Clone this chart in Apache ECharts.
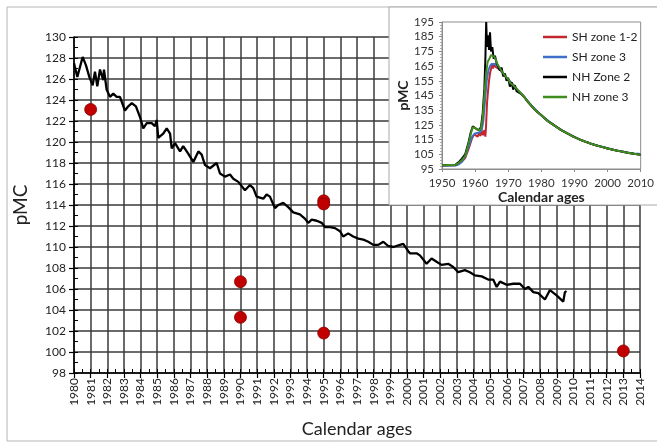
<!DOCTYPE html>
<html><head><meta charset="utf-8">
<script src="https://cdn.jsdelivr.net/npm/echarts@6/dist/echarts.min.js"></script>
<style>html,body{margin:0;padding:0;background:#fff}#c{width:657px;height:443px}</style>
</head><body><div id="c"></div>
<script>
// ---- Main chart data ----
const mainYears = [1980.00,1980.20,1980.52,1980.72,1980.92,
1981.12,1981.26,1981.40,1981.56,1981.76,1981.80,1981.96,
1982.16,1982.36,1982.56,1982.76,
1983.06,1983.26,1983.47,1983.72,1983.96,
1984.16,1984.37,1984.67,1984.86,1984.97,
1985.06,1985.36,1985.57,1985.77,1985.87,
1986.07,1986.37,1986.56,1986.86,
1987.17,1987.47,1987.67,1987.87,
1988.17,1988.57,1988.77,
1989.07,1989.37,1989.57,1989.87,
1990.27,1990.57,1990.77,1990.97,
1991.37,1991.57,1991.77,
1992.07,1992.27,1992.57,1992.87,
1993.17,1993.57,1993.87,
1994.07,1994.28,1994.58,1994.88,
1995.08,1995.38,1995.68,1995.98,
1996.17,1996.47,1996.77,
1997.08,1997.38,1997.68,1997.98,
1998.28,1998.58,1998.86,
1999.18,1999.58,1999.78,
2000.08,2000.18,2000.58,2000.78,
2001.18,2001.48,2001.78,
2002.08,2002.48,2002.78,
2003.08,2003.48,2003.78,
2004.08,2004.49,2004.88,
2005.18,2005.39,2005.59,2005.99,
2006.38,2006.79,
2007.09,2007.29,2007.59,2007.89,
2008.29,2008.59,2008.99,
2009.39,2009.49,2009.59];
const mainPMC = [127.5,126.2,128.1,127.3,126.2,
125.4,126.7,125.3,126.9,125.9,126.9,125.0,
124.3,124.6,124.3,124.3,
123.0,123.4,123.7,123.4,122.4,
121.3,121.8,121.8,121.5,122.1,
120.4,120.8,121.3,120.8,119.4,
119.9,119.1,119.6,118.9,
118.1,119.1,118.8,117.8,
117.5,118.0,117.0,
116.7,116.9,116.5,116.2,
115.4,115.9,115.6,114.8,
114.6,115.0,114.8,
113.7,114.0,114.2,113.8,
113.3,113.1,112.7,
112.3,112.6,112.5,112.3,
111.9,111.9,111.8,111.5,
111.0,111.3,111.0,
110.8,110.7,110.5,110.2,
110.2,110.5,110.1,
110.0,110.2,110.3,
109.6,109.4,109.4,109.2,
108.4,108.9,108.6,
108.3,108.4,108.1,
107.6,107.8,107.6,
107.3,107.2,106.9,
106.9,106.2,106.7,106.4,
106.5,106.5,
106.0,106.2,105.7,105.6,
105.0,105.9,105.4,
104.8,105.7,105.8];

const sampleYears = [1981, 1990, 1990, 1995, 1995, 1995, 2013];
const samplePMC   = [123.1, 106.7, 103.3, 114.4, 114.1, 101.8, 100.1];

// ---- Inset data ----
const insetNames = ['SH zone 1-2', 'SH zone 3', 'NH Zone 2', 'NH zone 3'];
const mergedTail = [[1975,143.5],[1976,140.5],[1977,138],[1978,135.5],[1979,133.5],[1980,131.5],[1981,129.5],[1982,127.5],[1983,126],[1984,124.5],[1985,123],[1986,121.5],[1987,120.2],[1988,119],[1989,117.8],[1990,116.7],[1991,115.7],[1992,114.7],[1993,113.8],[1994,113],[1995,112.2],[1996,111.5],[1997,110.8],[1998,110.2],[1999,109.6],[2000,109],[2001,108.4],[2002,107.9],[2003,107.4],[2004,107],[2005,106.5],[2006,106.1],[2007,105.7],[2008,105.3],[2009,105],[2010,104.6]];
const shZone12Early = [[1950,97.4],[1954,97.5],[1955,98.5],[1956,100],[1957,102.5],[1958,108.5],[1959,115.5],[1959.7,118.5],[1960.3,119.5],[1960.8,117],[1961.2,120],[1961.6,117.5],[1962,121],[1962.4,118],[1962.8,121.5],[1963.1,117],[1963.3,124],[1963.6,140],[1963.9,148],[1964.2,155],[1964.5,160],[1964.8,163],[1965.1,166.5],[1965.4,163.5],[1965.8,166],[1966.2,164.5],[1966.8,165],[1967.5,162.5],[1968.3,160.5],[1969,158.3],[1970,155.7],[1971,153.5],[1972,151],[1973,148.3],[1974,145.8]];
const shZone3Early = [[1950,97.3],[1954,97.4],[1955,98],[1956,100],[1957,103.5],[1958,110],[1959,116.5],[1959.8,119],[1960.5,119.5],[1961.3,119.8],[1962,121.5],[1962.5,128],[1963,142],[1963.5,155],[1964,162],[1964.5,165],[1965,166.5],[1965.5,167],[1966,166.5],[1967,164],[1968,161.3],[1969,158.5],[1970,156],[1971,153.3],[1972,151],[1973,148.5],[1974,146]];
const shZone3Late = [[1975,143.6],[1977,138.2],[1979,133.6],[1981,129.6],[1982,128],[1982.2,129.2],[1982.4,127.4],[1984,124.6],[1986,121.6],[1988,119.1],[1990,116.8],[1991.8,115],[1992,115.6],[1992.2,114.6],[1994,113.1],[1996,111.6],[1998,110.3],[2000,109.1],[2002,108],[2004,107.1],[2006,106.2],[2008,105.4],[2009.5,105.3],[2010,104.9]];
const nhZone2Early = [[1950,97.6],[1954,97.8],[1955,99.5],[1956,102],[1957,105],[1958,113],[1958.7,120],[1959.3,124],[1959.8,124],[1960.5,122],[1961.3,121.5],[1961.8,124],[1962.3,133],[1962.8,150],[1963.1,170],[1963.35,195],[1963.6,178],[1963.9,186],[1964.2,176],[1964.5,188],[1964.8,175],[1965.2,178],[1965.6,170],[1966,172],[1966.5,167],[1967,168],[1967.5,162],[1968,164],[1968.5,158],[1969,160],[1969.5,155],[1970,157],[1970.5,151],[1971,154],[1971.5,149],[1972,152],[1972.5,148],[1973,149],[1974,146]];
const nhZone3Early = [[1950,97.6],[1952,97.7],[1954,97.8],[1955,99],[1956,101],[1957,104],[1958,112],[1958.7,119],[1959.3,123.5],[1959.8,123.8],[1960.5,122.3],[1961.3,121],[1961.8,123],[1962.3,130],[1962.8,145],[1963.3,160],[1963.8,168],[1964.3,170],[1964.8,172.5],[1965.3,173],[1965.8,171.5],[1966.3,169],[1966.8,166],[1967.5,163.5],[1968.2,161],[1969,158.5],[1970,156],[1970.6,153.5],[1971,154.5],[1971.5,152],[1972,151.5],[1973,148.5],[1974,146]];
const insetColors = ['#C0282D', '#3D6FCB', '#000000', '#3F8C1F'];

const FONT = 'Lato, "Open Sans", "Liberation Sans", sans-serif';
const chart = echarts.init(document.getElementById('c'), null, {renderer: 'canvas'});

const mainLine = mainYears.map((y, i) => [y, mainPMC[i]]);
const samples = sampleYears.map((y, i) => [y, samplePMC[i]]);
const insetData = [
  shZone12Early.concat(mergedTail),
  shZone3Early.concat(shZone3Late),
  nhZone2Early.concat(mergedTail),
  nhZone3Early.concat(mergedTail)
];

const option = {
  animation: false,
  textStyle: {fontFamily: FONT},
  graphic: [
    {type: 'rect', silent: true, z: 0, shape: {x: 7, y: 7, width: 660, height: 434},
     style: {fill: 'none', stroke: '#b5b5b5', lineWidth: 1}},
    {type: 'rect', silent: true, z: 5, shape: {x: 389, y: 7, width: 280, height: 198},
     style: {fill: '#ffffff', stroke: '#a8a8a8', lineWidth: 1}}
  ],
  grid: [
    {left: 74, top: 37, right: 17, bottom: 70},
    {left: 442, top: 22, right: 14, bottom: 274, show: true, borderColor: '#8c8c8c', borderWidth: 1, backgroundColor: 'transparent', z: 10}
  ],
  legend: {
    left: 543, top: 31, orient: 'vertical', padding: 0, itemGap: 8,
    itemWidth: 24, itemHeight: 2.5, icon: 'rect', z: 12,
    data: insetNames,
    textStyle: {fontSize: 12, color: '#222', fontFamily: FONT}
  },
  xAxis: [
    {gridIndex: 0, type: 'value', min: 1980, max: 2014, interval: 1,
     axisLine: {lineStyle: {color: '#000', width: 1.5}},
     axisTick: {length: 5, lineStyle: {color: '#000', width: 1.2}},
     axisLabel: {rotate: 90, fontSize: 12, color: '#222', margin: 5, formatter: v => String(v)},
     splitLine: {show: true, lineStyle: {color: '#3a3a3a', width: 1.5}},
     name: 'Calendar ages', nameLocation: 'middle', nameGap: 47,
     nameTextStyle: {fontSize: 18, color: '#222'}},
    {gridIndex: 0, type: 'value', min: 1980, max: 2014, interval: 0.5, position: 'bottom',
     axisLine: {show: false}, axisTick: {inside: true, length: 4, lineStyle: {color: '#000', width: 1}},
     axisLabel: {show: false}, splitLine: {show: false}},
    {gridIndex: 1, type: 'value', min: 1950, max: 2010, interval: 10, z: 10,
     axisLine: {lineStyle: {color: '#8c8c8c'}},
     axisTick: {length: 3, lineStyle: {color: '#8c8c8c'}},
     axisLabel: {fontSize: 11.5, color: '#333', margin: 8, formatter: v => String(v)},
     splitLine: {show: false},
     name: 'Calendar ages', nameLocation: 'middle', nameGap: 21,
     nameTextStyle: {fontSize: 14, fontWeight: 'bold', color: '#222'}}
  ],
  yAxis: [
    {gridIndex: 0, type: 'value', min: 98, max: 130, interval: 2,
     axisLine: {show: true, lineStyle: {color: '#000', width: 1.5}},
     axisTick: {show: true, length: 5, lineStyle: {color: '#000', width: 1.2}},
     axisLabel: {fontSize: 12, color: '#222', margin: 8},
     splitLine: {show: true, lineStyle: {color: '#3a3a3a', width: 1.5}},
     name: 'pMC', nameLocation: 'middle', nameGap: 44,
     nameTextStyle: {fontSize: 19, color: '#222'}},
    {gridIndex: 0, type: 'value', min: 98, max: 130, interval: 1, position: 'left',
     axisLine: {show: false}, axisTick: {show: true, inside: true, length: 4, lineStyle: {color: '#000', width: 1}},
     axisLabel: {show: false}, splitLine: {show: false}},
    {gridIndex: 1, type: 'value', min: 95, max: 195, interval: 10, z: 10,
     axisLine: {show: true, lineStyle: {color: '#8c8c8c'}},
     axisTick: {show: true, length: 3, lineStyle: {color: '#8c8c8c'}},
     minorTick: {show: true, splitNumber: 5, length: 2, lineStyle: {color: '#aaa'}},
     axisLabel: {fontSize: 11.5, color: '#333', margin: 8},
     splitLine: {show: false},
     name: 'pMC', nameLocation: 'middle', nameGap: 30,
     nameTextStyle: {fontSize: 14, fontWeight: 'bold', color: '#222'}}
  ],
  series: [
    {type: 'line', name: 'main', xAxisIndex: 0, yAxisIndex: 0, data: mainLine,
     showSymbol: false, lineStyle: {color: '#000', width: 2.3}, z: 3},
    {type: 'scatter', name: 'samples', xAxisIndex: 0, yAxisIndex: 0, data: samples,
     symbolSize: 12, itemStyle: {color: '#C00000', opacity: 1, borderColor: '#8a0000', borderWidth: 0.8}, z: 4}
  ].concat(insetNames.map((n, i) => ({
    type: 'line', name: n, xAxisIndex: 2, yAxisIndex: 2, data: insetData[i],
    showSymbol: false, z: 11 + i, color: insetColors[i],
    lineStyle: {color: insetColors[i], width: 2}
  })))
};
chart.setOption(option);
</script>
</body></html>
